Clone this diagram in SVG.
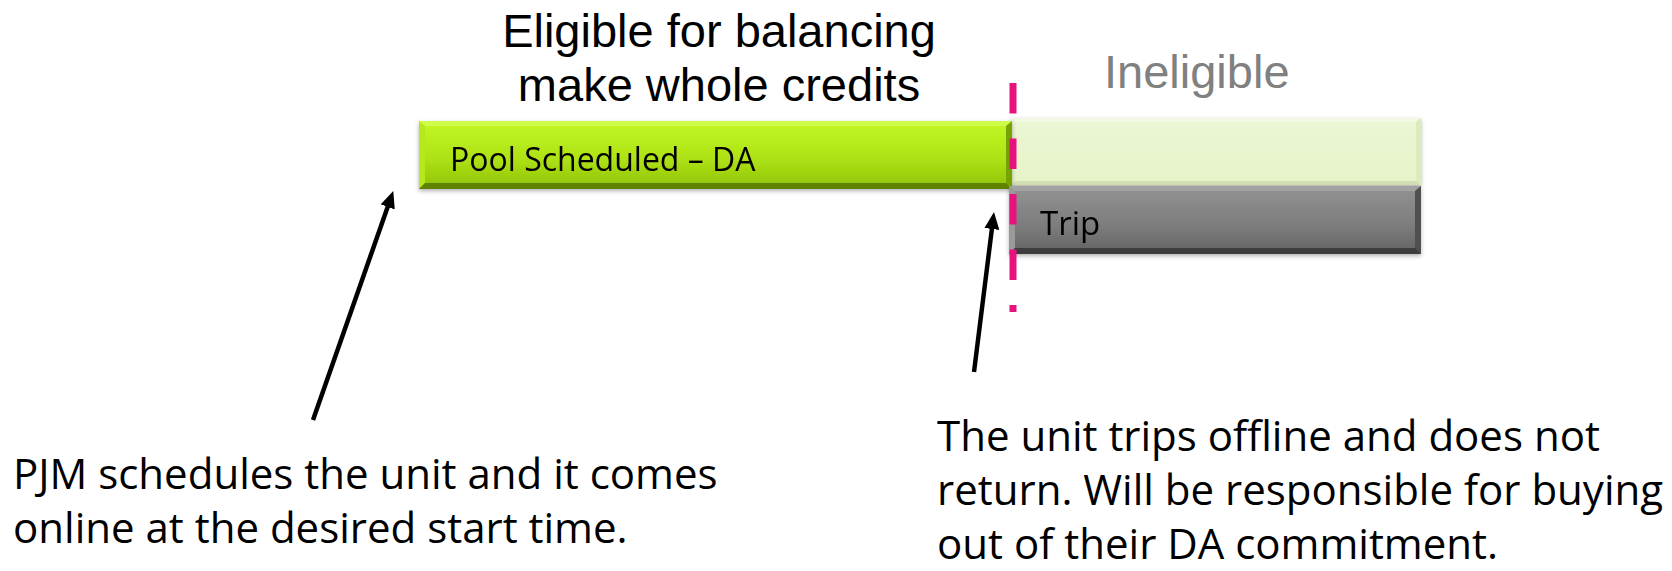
<svg xmlns="http://www.w3.org/2000/svg" width="1672" height="571" viewBox="0 0 1672 571">
  <style>
    .title { font-family: "Liberation Sans", Arial, sans-serif; font-size: 47px; fill: #000; text-anchor: middle; }
    .inel { font-family: "Liberation Sans", Arial, sans-serif; font-size: 47px; fill: #808080; }
    .bar-label { font-family: "Open Sans", "Noto Sans", sans-serif; fill: #000; }
    .note { font-family: "Open Sans", "Noto Sans", sans-serif; font-size: 42px; fill: #000; }
    .arrow { stroke: #000; stroke-width: 4.5; fill: none; marker-end: url(#head); }
    .divider { stroke: #e8127f; stroke-width: 7; stroke-dasharray: 30.5 25; fill: none; }
  </style>
  <defs>
    <linearGradient id="gGreen" x1="0" y1="0" x2="0" y2="1">
      <stop offset="0" stop-color="#c3f826"/>
      <stop offset="0.55" stop-color="#aee215"/>
      <stop offset="1" stop-color="#8fc206"/>
    </linearGradient>
    <linearGradient id="gLight" x1="0" y1="0" x2="0" y2="1">
      <stop offset="0" stop-color="#ecf6d4"/>
      <stop offset="1" stop-color="#e6f3c8"/>
    </linearGradient>
    <linearGradient id="gGray" x1="0" y1="0" x2="0" y2="1">
      <stop offset="0" stop-color="#939393"/>
      <stop offset="0.6" stop-color="#7c7c7c"/>
      <stop offset="1" stop-color="#626262"/>
    </linearGradient>
    <filter id="shadow" x="-5%" y="-20%" width="110%" height="150%">
      <feDropShadow dx="0" dy="2" stdDeviation="2" flood-color="#000" flood-opacity="0.3"/>
    </filter>
    <marker id="head" markerUnits="userSpaceOnUse" markerWidth="17" markerHeight="15" refX="1" refY="7.5" orient="auto">
      <path d="M0,0 L17,7.5 L0,15 z" fill="#000"/>
    </marker>
  </defs>

  <g id="title">
    <text class="title" x="719" y="47">Eligible for balancing</text>
    <text class="title" x="719" y="101">make whole credits</text>
  </g>

  <g id="ineligible-label">
    <text class="inel" x="1104" y="88">Ineligible</text>
  </g>

  <g id="bar-ineligible" filter="url(#shadow)">
    <rect x="1011" y="118" width="410" height="67" fill="url(#gLight)"/>
    <path d="M1011,118 L1421,118 L1416,122 L1016,122 Z" fill="#f2f9e2"/>
    <path d="M1421,118 L1421,185 L1416,181 L1416,122 Z" fill="#dde9bf"/>
    <path d="M1011,185 L1421,185 L1416,181 L1016,181 Z" fill="#d3e0b3"/>
  </g>

  <g id="bar-pool" filter="url(#shadow)">
    <rect x="419" y="121" width="593" height="68" fill="url(#gGreen)"/>
    <path d="M419,121 L1012,121 L1006,126 L425,126 Z" fill="#cffb4a"/>
    <path d="M419,121 L425,126 L425,183 L419,189 Z" fill="#b6e81f"/>
    <path d="M1012,121 L1012,189 L1006,183 L1006,126 Z" fill="#77a300"/>
    <path d="M419,189 L1012,189 L1006,183 L425,183 Z" fill="#5f8300"/>
    <text class="bar-label" x="450" y="171" font-size="32">Pool Scheduled – DA</text>
  </g>

  <g id="bar-trip" filter="url(#shadow)">
    <rect x="1009" y="186" width="412" height="68" fill="url(#gGray)"/>
    <path d="M1009,186 L1421,186 L1415,191 L1015,191 Z" fill="#a2a2a2"/>
    <path d="M1009,186 L1015,191 L1015,248 L1009,254 Z" fill="#9a9a9a"/>
    <path d="M1421,186 L1421,254 L1415,248 L1415,191 Z" fill="#505050"/>
    <path d="M1009,254 L1421,254 L1415,248 L1015,248 Z" fill="#3c3c3c"/>
    <text class="bar-label" x="1040" y="235" font-size="33">Trip</text>
  </g>

  <g id="divider">
    <line class="divider" x1="1013" y1="83" x2="1013" y2="312"/>
  </g>

  <g id="connectors">
    <line class="arrow" x1="313" y1="420" x2="388" y2="206"/>
    <line class="arrow" x1="974" y1="372" x2="992" y2="228"/>
  </g>

  <g id="note-left">
    <text class="note" x="13" y="489">PJM schedules the unit and it comes</text>
    <text class="note" x="13" y="543">online at the desired start time.</text>
  </g>

  <g id="note-right">
    <text class="note" x="937" y="451">The unit trips offline and does not</text>
    <text class="note" x="937" y="505">return. Will be responsible for buying</text>
    <text class="note" x="937" y="559">out of their DA commitment.</text>
  </g>
</svg>
